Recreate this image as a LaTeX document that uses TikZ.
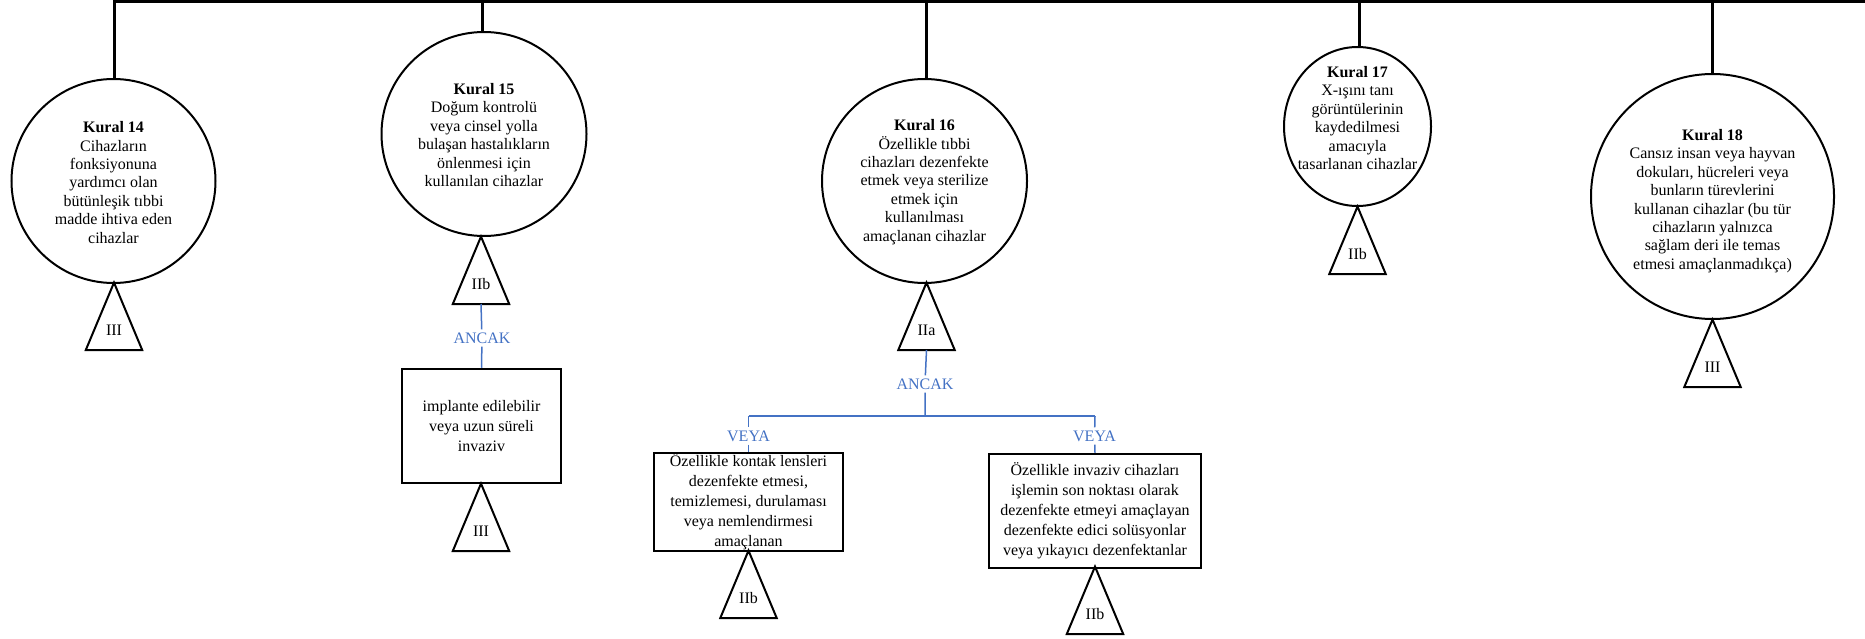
\documentclass[tikz,border=0pt]{standalone}
\usepackage{fontspec}
\setmainfont{Liberation Serif}
\usetikzlibrary{shapes.geometric}
\definecolor{linkblue}{HTML}{4472C4}
\tikzset{
  rule/.style={ellipse, draw, line width=2pt, inner sep=0pt},
  ruletext/.style={align=center, inner sep=0pt, font=\fontsize{16pt}{18.4pt}\selectfont},
  classbox/.style={draw, line width=2.5pt, inner sep=0pt, align=center,
    font=\fontsize{16pt}{20pt}\selectfont},
  classtri/.style={minimum width=56pt, minimum height=67pt, inner sep=0pt, anchor=south},
  triline/.style={line width=2pt, line join=miter},
  tritext/.style={inner sep=0pt, font=\fontsize{16pt}{18.4pt}\selectfont},
  bus/.style={line width=3pt},
  link/.style={draw=linkblue, line width=1.5pt},
  cond/.style={text=linkblue, inner sep=3pt, font=\fontsize{16pt}{18.4pt}\selectfont},
}
% class triangle: name, x, y of base, class
\newcommand\classtriangle[4]{%
  \node[classtri] (#1) at (#2,#3) {};
  \draw[triline] (#1.south west) -- (#1.north) -- (#1.south east) -- cycle;
  \node[tritext] (#1l) at ([yshift=20pt]#1.south) {#4};
}
\begin{document}
\begin{tikzpicture}[x=1pt, y=-1pt]
\useasboundingbox (0,0) rectangle (1865,639);

% rule circles
\node[rule, minimum width=204pt, minimum height=204pt] (k14) at (113.5,181) {};
\node[ruletext] (k14t) at (113.5,182.5) {\textbf{Kural 14}\\Cihazların\\fonksiyonuna\\yardımcı olan\\bütünleşik tıbbi\\madde ihtiva eden\\cihazlar};

\node[rule, minimum width=205pt, minimum height=204pt] (k15) at (484,134) {};
\node[ruletext] (k15t) at (484,135) {\textbf{Kural 15}\\Doğum kontrolü\\veya cinsel yolla\\bulaşan hastalıkların\\önlenmesi için\\kullanılan cihazlar};

\node[rule, minimum width=205pt, minimum height=204pt] (k16) at (924.5,181) {};
\node[ruletext] (k16t) at (924.5,182) {\textbf{Kural 16}\\Özellikle tıbbi\\cihazları dezenfekte\\etmek veya sterilize\\etmek için\\kullanılması\\amaçlanan cihazlar};

\node[rule, minimum width=147pt, minimum height=159pt] (k17) at (1357.5,126.5) {};
\node[ruletext] (k17t) at (1357.5,118) {\textbf{Kural 17}\\X-ışını tanı\\görüntülerinin\\kaydedilmesi\\amacıyla\\tasarlanan cihazlar};

\node[rule, minimum width=243pt, minimum height=245pt] (k18) at (1712.5,196.5) {};
\node[ruletext] (k18t) at (1712.5,201) {\textbf{Kural 18}\\Cansız insan veya hayvan\\dokuları, hücreleri veya\\bunların türevlerini\\kullanan cihazlar (bu tür\\cihazların yalnızca\\sağlam deri ile temas\\etmesi amaçlanmadıkça)};

% top bus and drops
\coordinate (bus14) at (114,1.5);
\coordinate (bus15) at (482,1.5);
\coordinate (bus16) at (926,1.5);
\coordinate (bus17) at (1359,1.5);
\coordinate (bus18) at (1712,1.5);
\coordinate (busend) at (1866,1.5);
\draw[bus, line join=miter] (bus14 |- k14.north) -- (bus14) -- (busend);
\draw[bus] (bus15) -- (bus15 |- k15.north);
\draw[bus] (bus16) -- (bus16 |- k16.north);
\draw[bus] (bus17) -- (bus17 |- k17.north);
\draw[bus] (bus18) -- (bus18 |- k18.north);

% classes under the rules
\classtriangle{t14}{114}{350}{III}
\classtriangle{t15}{481}{304}{IIb}
\classtriangle{t16}{926.5}{350}{IIa}
\classtriangle{t17}{1357.5}{274}{IIb}
\classtriangle{t18}{1712.5}{387}{III}

% Kural 15 exception
\node[cond] (anc15) at (482,338) {ANCAK};
\node[classbox, minimum width=159pt, minimum height=114pt] (b15) at (481.5,426) {implante edilebilir\\veya uzun süreli\\invaziv};
\classtriangle{t15b}{481}{551}{III}
\draw[link] (t15.south) -- (anc15) -- (b15.north);

% Kural 16 exceptions
\node[cond] (anc16) at (925,384) {ANCAK};
\coordinate (sp16) at (925,416);
\coordinate (sL) at (748.5,416);
\coordinate (sR) at (1095,416);
\node[cond] (vL) at (748.5,436) {VEYA};
\node[cond] (vR) at (1094.5,436) {VEYA};
\node[classbox, minimum width=189pt, minimum height=98pt] (bL) at (748.5,502) {Özellikle kontak lensleri\\dezenfekte etmesi,\\temizlemesi, durulaması\\veya nemlendirmesi\\amaçlanan};
\node[classbox, minimum width=212pt, minimum height=114pt] (bR) at (1095,511) {Özellikle invaziv cihazları\\işlemin son noktası olarak\\dezenfekte etmeyi amaçlayan\\dezenfekte edici solüsyonlar\\veya yıkayıcı dezenfektanlar};
\classtriangle{tL}{748.5}{618}{IIb}
\classtriangle{tR}{1095}{634}{IIb}
\draw[link] (t16.south) -- (anc16) -- (sp16);
\draw[link] (sL) -- (sR);
\draw[link] (sL) -- (vL) -- (bL.north);
\draw[link] (sR) -- (vR) -- (bR.north);
\end{tikzpicture}
\end{document}
